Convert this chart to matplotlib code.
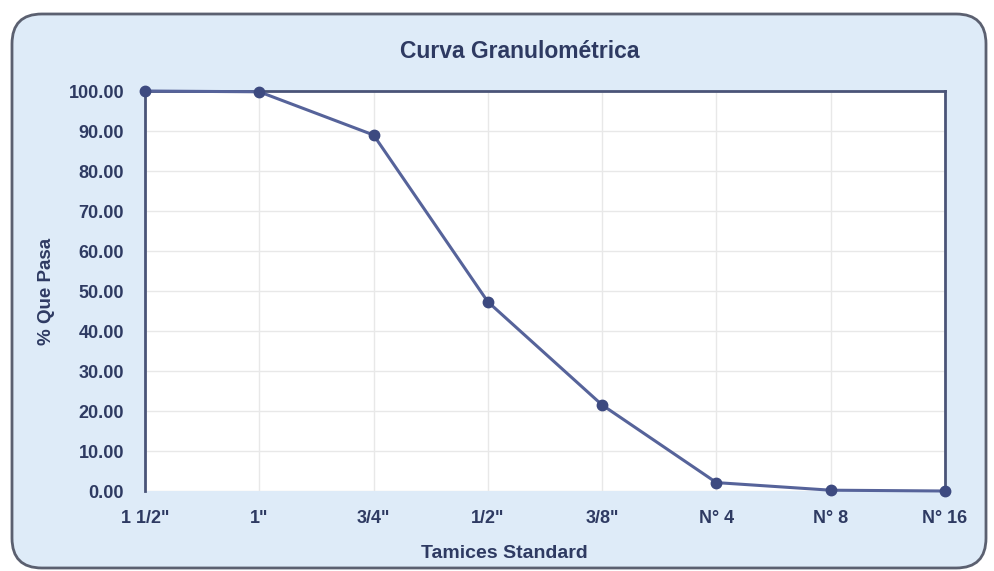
import matplotlib
matplotlib.use("Agg")
import matplotlib.pyplot as plt
from matplotlib.patches import FancyBboxPatch

# Sieve sizes and cumulative percent passing
tamices = ['1 1/2"', '1"', '3/4"', '1/2"', '3/8"', 'N° 4', 'N° 8', 'N° 16']
pasa = [100.0, 99.8, 89.0, 47.3, 21.5, 2.1, 0.2, 0.0]
yticks = [0, 10, 20, 30, 40, 50, 60, 70, 80, 90, 100]

text_color = "#2e3a62"
line_color = "#56639a"
marker_color = "#3d4a80"
panel_color = "#deebf8"

plt.rcParams['font.family'] = ['Liberation Sans', 'DejaVu Sans']

fig = plt.figure(figsize=(9.94, 5.71), dpi=100)
fig.patch.set_facecolor("white")

# rounded chart-area frame
frame = FancyBboxPatch((12 / 994, 3 / 571), 974 / 994, 554 / 571,
                       boxstyle="round,pad=0,rounding_size=0.03",
                       transform=fig.transFigure, facecolor=panel_color,
                       edgecolor="#5b6070", linewidth=2.0, zorder=0,
                       mutation_aspect=994 / 571)
fig.patches.append(frame)

ax = fig.add_axes([145 / 994, 80 / 571, 800 / 994, 400 / 571])
ax.set_zorder(2)
ax.set_facecolor("white")

x = list(range(len(tamices)))
ax.plot(x, pasa, color=line_color, linewidth=2.2, marker='o', markersize=7.5,
        markerfacecolor=marker_color, markeredgecolor=marker_color,
        clip_on=False, zorder=5)

ax.set_xlim(0, len(tamices) - 1)
ax.set_ylim(0, 100)
ax.set_xticks(x)
ax.set_xticklabels(tamices)
ax.set_yticks(yticks)
ax.set_yticklabels([f"{v:.2f}" for v in yticks])

ax.grid(True, color="#e8e8e8", linewidth=1.0)
ax.set_axisbelow(True)

for side in ("top", "left", "right"):
    ax.spines[side].set_color("#4a5478")
    ax.spines[side].set_linewidth(2.0)
ax.spines["bottom"].set_visible(False)

ax.tick_params(axis="both", length=0, colors=text_color, labelsize=13)
ax.tick_params(axis="y", pad=15)
ax.tick_params(axis="x", pad=14)
for lbl in ax.get_xticklabels() + ax.get_yticklabels():
    lbl.set_fontweight("bold")

fig.text(520 / 994, 1 - 52 / 571, "Curva Granulométrica", fontsize=16.5,
         fontweight="bold", color=text_color, ha="center", va="center")
fig.text(504 / 994, 1 - 554 / 571, "Tamices Standard", fontsize=14,
         fontweight="bold", color=text_color, ha="center", va="center")
ax.set_ylabel("% Que Pasa", fontsize=13.5, fontweight="bold",
              color=text_color, labelpad=10)

fig.savefig("out.png", dpi=100, facecolor=fig.get_facecolor())
